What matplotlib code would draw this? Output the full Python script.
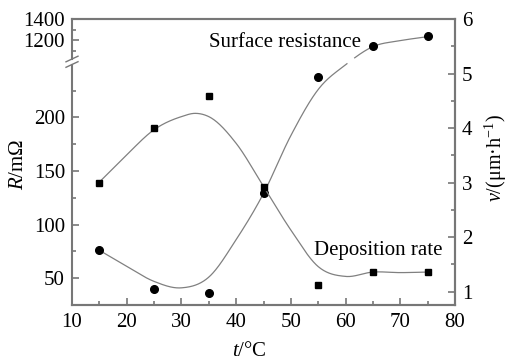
import numpy as np
import matplotlib
matplotlib.use("Agg")
import matplotlib.pyplot as plt
from matplotlib.ticker import FixedLocator, MultipleLocator, NullFormatter

plt.rcParams['font.family'] = ['Liberation Serif', 'DejaVu Serif']
plt.rcParams['mathtext.fontset'] = 'custom'
plt.rcParams['mathtext.rm'] = 'Liberation Serif'
plt.rcParams['mathtext.it'] = 'Liberation Serif:italic'

# measured points
temp = [15, 25, 35, 45, 55, 65, 75]
resistance = [76, 40, 36, 129, 238, 1143, 1238]      # mOhm, circles
dep_rate = [3.0, 4.0, 4.58, 2.92, 1.12, 1.36, 1.36]  # um/h, squares

# fitted curves
res_fit_t = [15, 20, 25, 30, 35, 40, 45, 50, 55, 60, 65, 70, 75]
res_fit = [76, 61, 47, 41, 51, 86, 129, 183, 226, 249, 1137, 1194, 1232]
rate_fit_t = [15, 20, 25, 30, 32.5, 35, 40, 45, 50, 55, 60, 65, 70, 75]
rate_fit = [3.01, 3.51, 3.97, 4.21, 4.27, 4.21, 3.72, 2.93, 2.13, 1.46, 1.28, 1.36, 1.35, 1.36]

left_major = [50, 100, 150, 200, 1200, 1400]
left_minor = [75, 125, 175, 225, 1100, 1300]

# broken left axis: 25-250 linear, 1000-1400 compressed
K = 0.098
def fwd(r):
    r = np.asarray(r, float)
    return np.where(r <= 250, r,
                    np.where(r >= 1000, 252.5 + (r - 1000) * K,
                             250 + (r - 250) * 2.5 / 750))

def inv(u):
    u = np.asarray(u, float)
    return np.where(u <= 250, u,
                    np.where(u >= 252.5, 1000 + (u - 252.5) / K,
                             250 + (u - 250) * 750 / 2.5))

def smooth(xs, ys, n=40):
    xs = np.asarray(xs, float)
    ys = np.asarray(ys, float)
    m = np.gradient(ys, xs)
    ox, oy = [], []
    for i in range(len(xs) - 1):
        h = xs[i + 1] - xs[i]
        s = np.linspace(0, 1, n, endpoint=False)
        h00 = 2 * s**3 - 3 * s**2 + 1
        h10 = s**3 - 2 * s**2 + s
        h01 = -2 * s**3 + 3 * s**2
        h11 = s**3 - s**2
        ox.append(xs[i] + s * h)
        oy.append(h00 * ys[i] + h10 * h * m[i] + h01 * ys[i + 1] + h11 * h * m[i + 1])
    ox.append([xs[-1]])
    oy.append([ys[-1]])
    return np.concatenate(ox), np.concatenate(oy)

fig = plt.figure(figsize=(5.09, 3.63), dpi=100)
ax = fig.add_axes([72 / 509, 1 - 305 / 363, 383 / 509, 286 / 363])
ax2 = ax.twinx()

spine_col = '#777777'
line_col = '#808080'

ax.set_yscale('function', functions=(fwd, inv))
ax.set_xlim(10, 80)
ax.set_ylim(25, 1400)
ax2.set_ylim(0.756, 6.0)

# resistance curve, smoothed in display units, with a gap at the break
cx, cu = smooth(res_fit_t, fwd(res_fit), n=60)
cr = inv(cu)
cr = np.where((cu > 250.0) & (cu < 255.5), np.nan, cr)
ax.plot(cx, cr, color=line_col, lw=0.9)
ax.plot(temp, resistance, 'o', color='black', ms=5.5)

rx, ry = smooth(rate_fit_t, rate_fit, n=40)
ax2.plot(rx, ry, color=line_col, lw=0.9)
ax2.plot(temp, dep_rate, 's', color='black', ms=5)

# ticks
ax.xaxis.set_major_locator(MultipleLocator(10))
ax.xaxis.set_minor_locator(MultipleLocator(5))
ax.yaxis.set_major_locator(FixedLocator(left_major))
ax.yaxis.set_minor_locator(FixedLocator(left_minor))
ax.yaxis.set_minor_formatter(NullFormatter())
ax.set_yticklabels([str(v) for v in left_major])
ax2.yaxis.set_major_locator(MultipleLocator(1))
ax2.yaxis.set_minor_locator(MultipleLocator(0.5))

for a in (ax, ax2):
    a.tick_params(which='both', direction='in', color=spine_col, width=1.2,
                  labelsize=15, pad=5)
    a.tick_params(which='major', length=5)
    a.tick_params(which='minor', length=3)
    for s in a.spines.values():
        s.set_color(spine_col)
        s.set_linewidth(1.5)
ax.tick_params(top=False, which='both')
ax2.tick_params(top=False, which='both')
ax.tick_params(axis='x', pad=6)

# left spine with break
ax.spines['left'].set_visible(False)
ax2.spines['left'].set_visible(False)
b_lo, b_hi = (305 - 64.5) / 286, (305 - 59) / 286
ax.plot([0, 0], [0, b_lo], transform=ax.transAxes, color=spine_col, lw=1.5, clip_on=False)
ax.plot([0, 0], [b_hi, 1], transform=ax.transAxes, color=spine_col, lw=1.5, clip_on=False)
dx, dy = 6 / 383, 2.8 / 286
for yb in (b_lo, b_hi):
    ax.plot([-dx, dx], [yb - dy, yb + dy], transform=ax.transAxes,
            color=spine_col, lw=1.0, clip_on=False)

# annotations
ax.text((209 - 72) / 383, (305 - 47) / 286, 'Surface resistance',
        transform=ax.transAxes, fontsize=15, ha='left', va='baseline')
ax.text((314 - 72) / 383, (305 - 255) / 286, 'Deposition rate',
        transform=ax.transAxes, fontsize=15, ha='left', va='baseline')

# axis labels
fig.text(18.5 / 509, 1 - 164 / 363, r'$R$/m$\Omega$', rotation=90,
         ha='center', va='center', fontsize=15)
fig.text(496 / 509, 1 - 158 / 363, r'$v$/(μm·h$^{-1}$)', rotation=90,
         ha='center', va='center', fontsize=14.5)
fig.text(249 / 509, 1 - 352 / 363, r'$t$/°C', ha='center', va='center', fontsize=15)

fig.savefig('out.png', dpi=100)
